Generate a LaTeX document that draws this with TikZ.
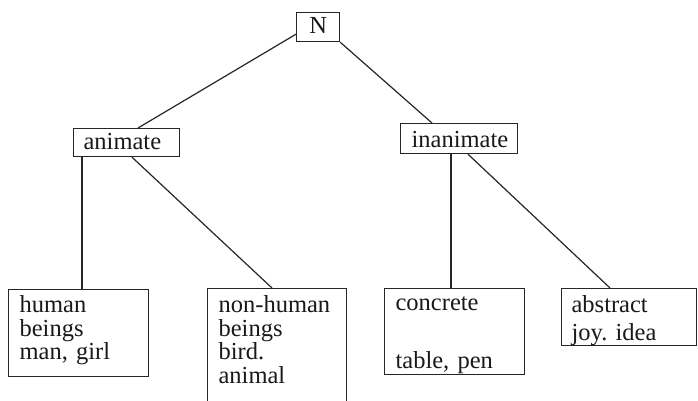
\documentclass[tikz,border=0pt]{standalone}
\usepackage{fontspec}
\setmainfont{Liberation Serif}
\usetikzlibrary{calc}
\frenchspacing
\begin{document}
\begin{tikzpicture}[x=1pt,y=-1pt,
  ink/.style={draw=black!85, line width=1.2pt},
  tbox/.style={ink, anchor=north west, inner ysep=0pt, align=left,
    font=\fontsize{24.5}{23.5}\selectfont, text=black!90},
  wire/.style={draw=black!85, line width=1.2pt}]
\useasboundingbox (0,0) rectangle (698,401);
\clip (0,0) rectangle (698,401);
\fill[white] (0,0) rectangle (698,401);

\node[tbox, inner xsep=0pt, align=center, text width=43pt, text height=21pt, text depth=8pt] (N) at (296,12) {N};
\node[tbox, inner xsep=10pt, text width=86pt, text height=21pt, text depth=7pt] (animate) at (73,128) {animate};
\node[tbox, inner xsep=11pt, text width=95pt, text height=24pt, text depth=6pt] (inanimate) at (400,123) {inanimate};

\node[tbox, inner xsep=11pt, text width=118pt, text height=23pt, text depth=64pt] (human) at (8,289) {human\\beings\\man, girl};
\node[tbox, inner xsep=11pt, text width=117pt, text height=24pt, text depth=108pt] (nonhuman) at (207,288) {non-human\\beings\\bird.\\animal};
\node[tbox, inner xsep=11pt, text width=118pt, text height=22pt, text depth=64pt] (concrete) at (384,288) {concrete\\[34pt]table, pen};
\node[tbox, inner xsep=10pt, text width=115pt, text height=24pt, text depth=33pt] (abstract) at (561,288) {abstract\\[4pt]joy. idea};

\draw[wire] ($(N.south west)+(0,-8)$) -- ($(animate.north west)+(65,0)$);
\draw[wire] (N.south east) -- ($(inanimate.north west)+(32,0)$);
\draw[wire] ($(animate.south west)+(9,0)$) coordinate (a1) -- (a1 |- human.north);
\draw[wire] ($(animate.south west)+(59,0)$) -- ($(nonhuman.north west)+(65,0)$);
\draw[wire] ($(inanimate.south west)+(51,0)$) coordinate (i1) -- (i1 |- concrete.north);
\draw[wire] ($(inanimate.south west)+(68,0)$) -- ($(abstract.north west)+(49,0)$);
\end{tikzpicture}
\end{document}
